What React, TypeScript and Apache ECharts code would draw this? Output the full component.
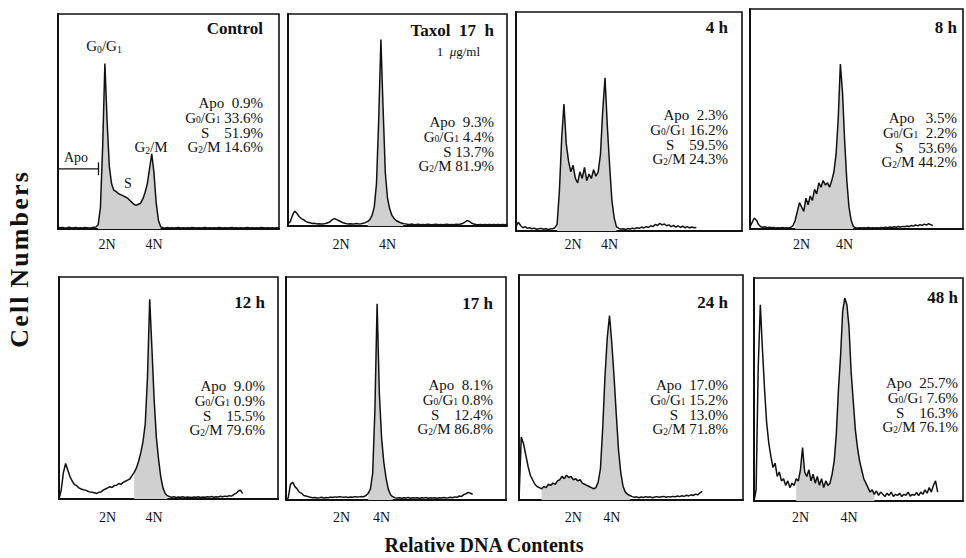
import React, { useEffect, useRef } from "react";
import * as echarts from "echarts";

const SERIF = "'Liberation Serif', 'Times New Roman', serif";
const INK = "#111111";
const FILL = "#d0d0d0";

// ---------- DATA ----------
const panelTitles = ["Control", "Taxol\u00a0\u00a017\u00a0\u00a0h", "4 h", "8 h", "12 h", "17 h", "24 h", "48 h"];
const apoPct = ["0.9%", "9.3%", "2.3%", "3.5%", "9.0%", "8.1%", "17.0%", "25.7%"];
const g1Pct = ["33.6%", "4.4%", "16.2%", "2.2%", "0.9%", "0.8%", "15.2%", "7.6%"];
const sPct = ["51.9%", "13.7%", "59.5%", "53.6%", "15.5%", "12.4%", "13.0%", "16.3%"];
const g2Pct = ["14.6%", "81.9%", "24.3%", "44.2%", "79.6%", "86.8%", "71.8%", "76.1%"];
const tickLabels = ["2N", "4N"];

// channel index (0..99 across each panel) of the 2N and 4N tick labels
const n2Index = [22, 24, 25, 24, 22, 25, 24, 22];
const n4Index = [43, 45, 41, 44, 43, 43, 41, 45];

// histogram traces, % of panel height, one value per channel
const control = [
  0.8, 0.6, 0.7, 0.5, 0.6, 0.8, 0.5, 0.6, 0.7, 0.5, 0.6, 0.5, 0.7, 0.6, 0.5, 0.6, 0.8, 0.9,
  2, 10, 38, 77, 50, 29, 21, 18, 17.5, 16.5, 16, 15.5, 15, 14.5, 13.5, 12.5, 11.5, 11, 11.5, 12, 14, 17, 21, 28, 35, 26, 12, 4, 1,
  0.6, 0.5, 0.7, 0.5, 0.6, 0.5, 0.6, 0.7, 0.5, 0.6, 0.5, 0.6, 0.5, 0.7, 0.6, 0.5, 0.6, 0.5, 0.6, 0.7,
  0.5, 0.6, 0.5, 0.6, 0.5, 0.7, 0.6, 0.5, 0.6, 0.5, 0.6, 0.7, 0.5, 0.6, 0.5, 0.6, 0.5, 0.6, 0.7, 0.5,
  0.6, 0.5, 0.6, 0.5, 0.7, 0.6, 0.5, 0.6, 0.5, 0.6, 0.5, 0.6, 0.5,
];
const taxol17 = [
  1, 2, 5, 7, 6, 4.5, 3.5, 3, 2.2, 1.8, 1.5, 1.2, 1.3, 1, 1.1, 0.9, 1, 1.2, 1.5, 2,
  3, 3.5, 3, 2.5, 2, 1.5, 1.2, 1, 1.1, 0.9, 1, 1.2, 1, 1.1, 1.3, 1.6, 2.2, 3, 5, 9,
  20, 50, 88, 55, 25, 13, 8, 5, 3.5, 2.5, 2, 1.5, 1.2, 1,
  0.8, 0.7, 0.9, 0.6, 0.7, 0.8, 0.6, 0.7, 0.6, 0.8, 0.7, 0.6, 0.7, 0.8, 0.6, 0.7, 0.6, 0.7, 0.8, 0.6,
  0.7, 0.6, 0.8, 0.7, 0.9, 1.2, 1.8, 2.6, 2.2, 1.4, 0.9, 0.7, 0.6, 0.7, 0.6, 0.7, 0.6, 0.7, 0.6, 0.7,
  0.6, 0.7, 0.6, 0.7, 0.6, 0.7,
];
const h4 = [
  2, 4, 2.5, 1.5, 2, 1.2, 1.5, 1, 1.3, 0.8, 1, 1.2, 0.8, 1, 0.7, 0.9, 1, 1.5, 3,
  18, 42, 58, 40, 32, 27, 30, 24, 22, 27, 24, 29, 23, 26, 24, 28, 25, 27, 35, 55, 70, 48, 30, 14, 6, 2,
  1.2, 0.8, 1, 0.7, 1.1, 0.9, 1.3, 1, 1.5, 1.2, 1.8, 1.4, 2, 1.6, 2.4, 2, 3, 2.5, 3.5, 2.8,
  3.2, 2.4, 2.8, 2, 2.6, 1.8, 2.4, 1.6, 2.2, 1.5, 2, 1.4, 1.8, 1.5, 1.6,
];
const h8 = [
  1, 3, 5, 4, 2, 1, 0.8, 1, 0.6, 0.8, 0.6, 0.7, 0.5, 0.6, 0.5, 0.7, 0.5, 0.6, 0.5, 0.8,
  1.5, 4, 8, 12, 10, 8, 14, 11, 15, 13, 18, 16, 21, 19, 22, 20, 21, 19, 22, 26,
  34, 50, 75, 62, 40, 22, 10, 4, 1.2, 0.6, 0.5,
  0.6, 0.5, 0.6, 0.5, 0.7, 0.5, 0.6, 0.5, 0.6, 0.5, 0.7, 0.6, 0.8, 0.6, 0.9, 0.7, 1, 0.8, 1.1, 0.9,
  1.2, 1, 1.4, 1.1, 1.6, 1.3, 1.8, 1.4, 2, 1.6, 2.2, 1.8, 2.4, 2, 1.5,
];
const h12 = [
  0, 4, 12, 16, 13, 10, 8, 6.5, 6, 5, 4.5, 4.2, 4, 3.5, 3.2, 3, 2.8, 2.5, 3, 3.2,
  4, 4.5, 5, 5.5, 5.2, 6, 6.2, 7, 6.6, 7.5, 8, 8.5, 9, 10.5, 12, 14, 17, 21, 26, 34,
  55, 90, 68, 45, 28, 18, 10, 5, 2.5, 1.5, 1,
  0.8, 1, 0.7, 0.9, 0.8, 1, 0.7, 0.9, 0.8, 0.7, 0.9, 0.8, 1, 0.7, 0.9, 0.8, 1, 0.9, 1.1, 0.8,
  1, 0.9, 1.2, 1, 1.3, 1.1, 1.5, 1.3, 2, 2.5, 3.5, 4, 2.5,
];
const h17 = [
  0, 1, 7, 8, 6, 5, 3.5, 3, 2, 1.8, 1.5, 1.2, 1, 1.1, 0.9, 1, 1.2, 0.9, 1.1, 1,
  1.3, 1.1, 1.4, 1.2, 1.5, 1.3, 1.2, 1.4, 1.1, 1.3, 1.2, 1.5, 1.3, 1.4, 1.6, 1.5, 2, 3, 5, 12,
  40, 88, 48, 28, 17, 10, 5, 2.5, 1.5, 1,
  0.9, 1, 0.8, 1, 0.9, 1.1, 0.8, 1, 0.9, 1, 0.8, 1, 0.9, 1.1, 0.8, 1, 0.9, 1, 0.8, 1,
  0.9, 1.1, 0.9, 1, 1.2, 1, 1.4, 1.2, 1.8, 1.6, 2.4, 2.8, 3.4, 3, 2.6,
];
const h24 = [
  0, 28, 25, 20, 15, 11, 9, 7, 6, 5.5, 5, 6, 5.5, 7, 6.5, 7.5, 7, 8.5, 9, 10.5,
  9.5, 11, 10, 10.5, 9, 9.5, 8.5, 9, 7.5, 7, 6.5, 6, 5.5, 5, 5.5, 8, 14, 32, 55, 72,
  82, 70, 55, 38, 22, 12, 6, 3.5, 2.5, 2, 1.5,
  1.2, 1.4, 1, 1.3, 1.1, 1.5, 1.2, 1.4, 1, 1.3, 1.5, 1.2, 1.4, 1.6, 1.2, 1.5, 1.3, 1.6, 1.4, 1.8,
  1.5, 1.9, 1.6, 2.1, 1.8, 2.3, 2, 2.6, 2.3, 3.2, 3.8,
];
const h48 = [
  0, 5, 60, 88, 68, 50, 35, 26, 20, 15, 17, 11, 13, 9, 10, 7, 9, 6, 8, 7,
  10, 9, 14, 24, 13, 11, 14, 9, 12, 8, 11, 7, 10, 6, 9, 7, 8, 12, 18, 30,
  50, 65, 85, 91, 88, 78, 58, 45, 32, 24, 18, 14, 10, 8, 6, 4, 5, 3, 4.5, 2.5,
  4, 3, 2, 3.5, 2.5, 4, 2, 3, 2.5, 3.5, 2, 3, 2.5, 4, 2.2, 3, 2.5, 3.8, 2.4, 4,
  3, 5, 3.5, 6, 4, 7, 9, 4,
];
const traces = [control, taxol17, h4, h8, h12, h17, h24, h48];
// shaded (fitted) channel range under each trace
const fillStart = [18, 36, 18, 21, 34, 37, 10, 20];
const fillEnd = [46, 52, 44, 48, 49, 48, 49, 57];
// Apo gate bracket in the Control panel
const apoBracket = [28, 28, 28, 28, 28, 28, 28, 28, 28, 28, 28, 28, 28, 28, 28, 28, 28, 28, 28];
const apoTick = [25, 31];

// ---------- LAYOUT ----------
const W = 966;
const H = 558;
// [left, top, width, height] of each panel box
const boxes = [
  [58, 14, 221, 215],
  [288, 14, 219, 212],
  [516, 12, 226, 219],
  [750, 9, 218, 220],
  [59, 277, 219, 222],
  [286, 277, 220, 223],
  [519, 275, 224, 225],
  [754, 278, 214, 223],
];
const tickLabelY = [244, 244, 244, 244, 517, 517, 517, 517];
const titleRight = [263, 494, 728, 957, 265, 493, 728, 958];
const titleY = [28, 30, 27, 27, 302, 303, 302, 297];
const statsY = [103, 122, 115, 118, 386, 385, 385, 383];
// number of spaces between each stat name and its value
const gapApo = [2, 2, 2, 3, 2, 2, 2, 2];
const gapG1 = [1, 1, 1, 2, 1, 1, 1, 1];
const gapS = [4, 1, 4, 4, 4, 4, 3, 4];
const gapG2 = [1, 1, 1, 1, 1, 1, 1, 1];

const sp = (n: number) => "\u00a0".repeat(n);

function buildOption() {
  const grid: any[] = [];
  const xAxis: any[] = [];
  const yAxis: any[] = [];
  const series: any[] = [];
  const graphic: any[] = [];
  const cats = Array.from({ length: 100 }, (_, i) => "c" + i);

  boxes.forEach((b, p) => {
    const [l, t, w, h] = b;
    grid.push({
      left: l,
      top: t,
      width: w,
      height: h,
      show: true,
      borderColor: INK,
      borderWidth: 1.6,
      containLabel: false,
    });
    xAxis.push({
      type: "category",
      gridIndex: p,
      data: cats,
      boundaryGap: false,
      axisTick: { show: false },
      axisLine: { show: true, onZero: false, lineStyle: { color: INK, width: 2 } },
      splitLine: { show: false },
      axisLabel: {
        show: true,
        interval: 0,
        margin: tickLabelY[p] - (t + h) - 7,
        fontFamily: SERIF,
        fontSize: 14,
        color: INK,
        formatter: (_v: string, i: number) =>
          i === n2Index[p] ? tickLabels[0] : i === n4Index[p] ? tickLabels[1] : "",
      },
    });
    yAxis.push({
      type: "value",
      gridIndex: p,
      min: 0,
      max: 100,
      axisLine: { show: true, lineStyle: { color: INK, width: 2 } },
      axisTick: { show: false },
      axisLabel: { show: false },
      splitLine: { show: false },
    });
    const tr = traces[p];
    series.push({
      type: "line",
      xAxisIndex: p,
      yAxisIndex: p,
      data: tr.map((v, i) => (i >= fillStart[p] && i <= fillEnd[p] ? v : null)),
      symbol: "none",
      lineStyle: { width: 0, color: FILL },
      areaStyle: { color: FILL, opacity: 1 },
      silent: true,
      z: 1,
    });
    series.push({
      type: "line",
      xAxisIndex: p,
      yAxisIndex: p,
      data: tr,
      symbol: "none",
      lineStyle: { width: 1.5, color: INK },
      silent: true,
      z: 3,
    });

    // title
    graphic.push({
      type: "text",
      x: titleRight[p],
      y: titleY[p],
      style: {
        text: panelTitles[p],
        fontFamily: SERIF,
        fontWeight: "bold",
        fontSize: 17,
        fill: INK,
        align: "right",
        verticalAlign: "middle",
      },
    });
    // stats block
    const lh = 14.8;
    const txt =
      `{n|Apo${sp(gapApo[p])}${apoPct[p]}}\n` +
      `{n|G}{s|0}{n|/G}{s|1}{n|${sp(gapG1[p])}${g1Pct[p]}}\n` +
      `{n|S${sp(gapS[p])}${sPct[p]}}\n` +
      `{n|G}{s|2}{n|/M${sp(gapG2[p])}${g2Pct[p]}}`;
    graphic.push({
      type: "text",
      x: titleRight[p],
      y: statsY[p] - lh / 2,
      style: {
        text: txt,
        fill: INK,
        align: "right",
        verticalAlign: "top",
        rich: {
          n: { fontFamily: SERIF, fontSize: 15, lineHeight: lh },
          s: { fontFamily: SERIF, fontSize: 9.5, lineHeight: 7, verticalAlign: "bottom" },
        },
      },
    });
  });

  // Apo gate bracket on the Control panel
  series.push({
    type: "line",
    xAxisIndex: 0,
    yAxisIndex: 0,
    data: apoBracket,
    symbol: "none",
    lineStyle: { width: 1.3, color: INK },
    silent: true,
    z: 4,
    markLine: {
      silent: true,
      symbol: ["none", "none"],
      label: { show: false },
      lineStyle: { type: "solid", width: 1.3, color: INK },
      data: [[{ coord: [apoBracket.length - 1, apoTick[0]] }, { coord: [apoBracket.length - 1, apoTick[1]] }]],
    },
  });

  // sub-heading under Taxol
  graphic.push({
    type: "text",
    x: 480,
    y: 51,
    style: {
      text: "{n|1\u00a0\u00a0}{i|\u03bc}{n|g/ml}",
      fill: INK,
      align: "right",
      verticalAlign: "middle",
      rich: {
        n: { fontFamily: SERIF, fontSize: 13 },
        i: { fontFamily: SERIF, fontSize: 13, fontStyle: "italic" },
      },
    },
  });

  // Control panel phase labels
  const phaseLabel = (x: number, y: number, text: string, size: number) => ({
    type: "text",
    x,
    y,
    style: {
      text,
      fill: INK,
      align: "center",
      verticalAlign: "middle",
      rich: {
        n: { fontFamily: SERIF, fontSize: size, lineHeight: size + 2 },
        s: { fontFamily: SERIF, fontSize: size * 0.65, lineHeight: 8, verticalAlign: "bottom" },
      },
    },
  });
  graphic.push(phaseLabel(104, 46, "{n|G}{s|0}{n|/G}{s|1}", 15));
  graphic.push(phaseLabel(151, 147, "{n|G}{s|2}{n|/M}", 15));
  graphic.push(phaseLabel(76, 157, "{n|Apo}", 14));
  graphic.push(phaseLabel(128, 183, "{n|S}", 14));

  // axis titles
  graphic.push({
    type: "text",
    x: 19,
    y: 260,
    rotation: Math.PI / 2,
    style: {
      text: "C\u200ae\u200al\u200al\u200a N\u200au\u200am\u200ab\u200ae\u200ar\u200as",
      fontFamily: SERIF,
      fontWeight: "bold",
      fontSize: 26,
      fill: INK,
      align: "center",
      verticalAlign: "middle",
    },
  });
  graphic.push({
    type: "text",
    x: 484,
    y: 545,
    style: {
      text: "Relative DNA Contents",
      fontFamily: SERIF,
      fontWeight: "bold",
      fontSize: 20,
      fill: INK,
      align: "center",
      verticalAlign: "middle",
    },
  });

  return {
    animation: false,
    backgroundColor: "#ffffff",
    grid,
    xAxis,
    yAxis,
    series,
    graphic,
  };
}

export default function App() {
  const ref = useRef<HTMLDivElement>(null);
  useEffect(() => {
    if (!ref.current) return;
    const chart = echarts.init(ref.current, undefined, { renderer: "svg" });
    chart.setOption(buildOption() as any);
    return () => chart.dispose();
  }, []);
  return (
    <div
      ref={ref}
      style={{ position: "absolute", left: 0, top: 0, width: W, height: H, background: "#fff" }}
    />
  );
}
